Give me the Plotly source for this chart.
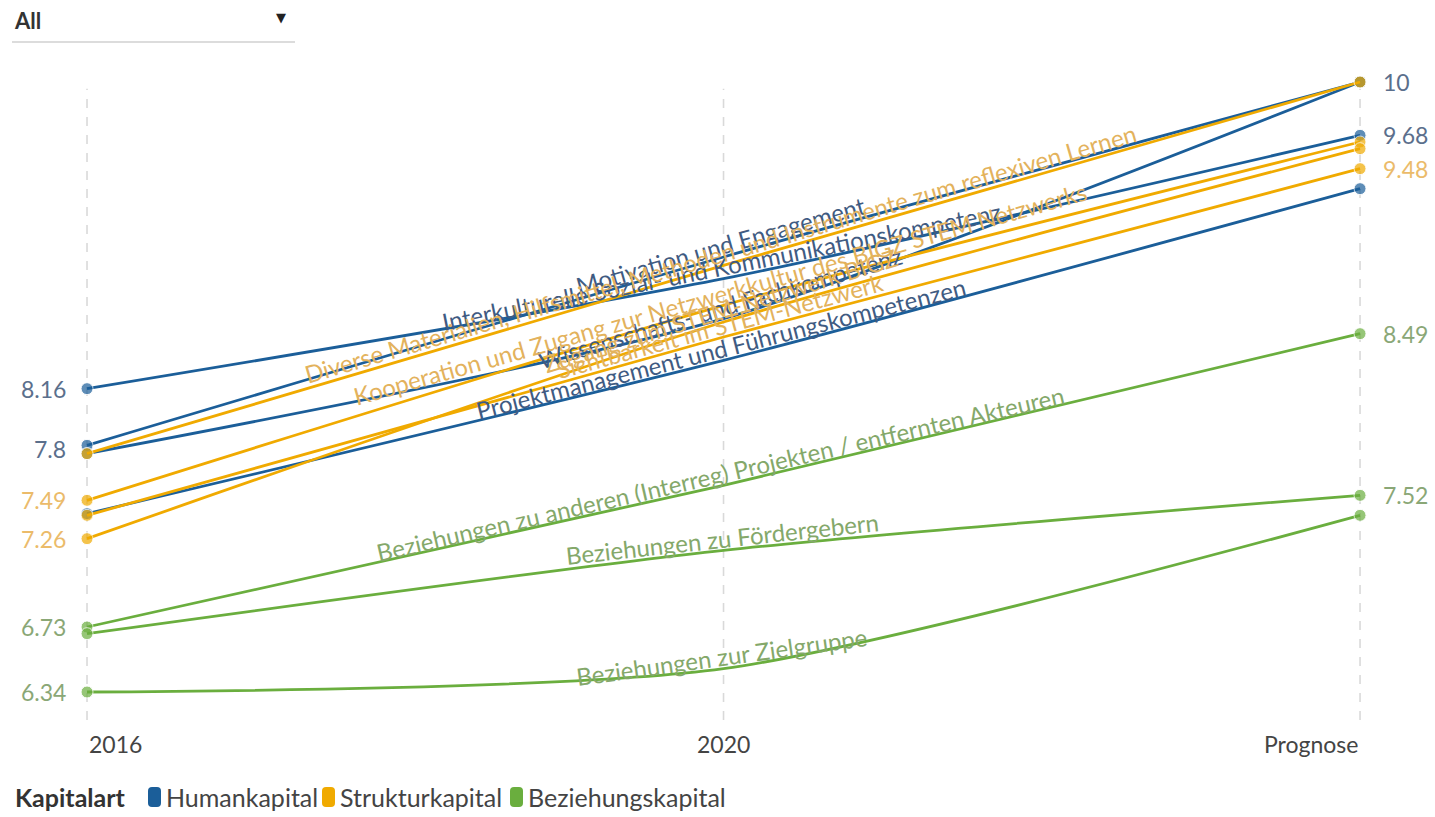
import math
import plotly.graph_objects as go

# ---------------- data ----------------
periods = ["2016", "2020", "Prognose"]

human_names = [
    "Motivation und Engagement",
    "Interkulturelle Sozial- und Kommunikationskompetenz",
    "Wissenschafts- und Fachkompetenz",
    "Projektmanagement und Führungskompetenzen",
]
human_2016 = [7.82, 8.16, 7.77, 7.41]
human_2020 = [8.95, 8.82, 8.58, 8.33]
human_prog = [10.0, 9.68, 10.0, 9.36]

struct_names = [
    "Diverse Materialien, Hilfsmittel, Methoden und Instrumente zum reflexiven Lernen",
    "Kooperation und Zugang zur Netzwerkkultur des BIGZ STEM Netzwerks",
    "Zugang zum STEM-Netzwerk BIGZ",
    "Sichtbarkeit im STEM-Netzwerk",
]
struct_2016 = [7.77, 7.49, 7.26, 7.40]
struct_2020 = [8.90, 8.66, 8.56, 8.47]
struct_prog = [10.0, 9.64, 9.60, 9.48]

rel_names = [
    "Beziehungen zu anderen (Interreg) Projekten / entfernten Akteuren",
    "Beziehungen zu Fördergebern",
    "Beziehungen zur Zielgruppe",
]
rel_2016 = [6.73, 6.69, 6.34]
rel_2020 = [7.58, 7.19, 6.48]
rel_prog = [8.49, 7.52, 7.40]

legend_title = "Kapitalart"
group_names = ["Humankapital", "Strukturkapital", "Beziehungskapital"]

left_labels = ["8.16", "7.8", "7.49", "7.26", "6.73", "6.34"]
left_label_vals = [8.16, 7.8, 7.49, 7.26, 6.73, 6.34]
left_label_grp = [0, 0, 1, 1, 2, 2]
right_labels = ["10", "9.68", "9.48", "8.49", "7.52"]
right_label_vals = [10.0, 9.68, 9.48, 8.49, 7.52]
right_label_grp = [0, 0, 1, 2, 2]

# ---------------- style ----------------
LINE_COLORS = ["#1b5e99", "#f0aa00", "#6aae3e"]
TEXT_COLORS = ["#3f5b82", "#e3b25c", "#84a86a"]
VALUE_COLORS = ["#5b6f8c", "#ebbb6a", "#8aa776"]
FONT = "Source Sans Pro, Lato, Noto Sans, sans-serif"

W, H = 1435, 817
ML, MR, MT, MB = 20, 15, 62, 97
XR = [-0.1053, 2.0942]
YR = [6.172, 10.12]
PX_X = (W - ML - MR) / (XR[1] - XR[0])
PX_Y = (H - MT - MB) / (YR[1] - YR[0])


def px2paper_x(px):
    return (px - ML) / (W - ML - MR)


def px2paper_y(py):
    return (H - MB - py) / (H - MT - MB)


xs = [0, 1, 2]
fig = go.Figure()
annotations = []
shapes = []

# dashed vertical guides at each period
for xv in xs:
    shapes.append(dict(type="line", xref="x", yref="y", x0=xv, x1=xv,
                       y0=YR[0], y1=9.96, layer="below",
                       line=dict(color="#d9d9d9", width=1.6, dash="dash")))

groups = [
    (human_names, human_2016, human_2020, human_prog),
    (struct_names, struct_2016, struct_2020, struct_prog),
    (rel_names, rel_2016, rel_2020, rel_prog),
]

for gi, (names, a, b, c) in enumerate(groups):
    for i, name in enumerate(names):
        ys = [a[i], b[i], c[i]]
        fig.add_trace(go.Scatter(
            x=xs, y=ys, mode="lines+markers", name=name,
            line=dict(color=LINE_COLORS[gi], width=2.8, shape="spline", smoothing=0.7),
            marker=dict(size=[12, 0, 12], color=LINE_COLORS[gi]),
            showlegend=False, cliponaxis=False, hoverinfo="name+y",
        ))
        slope = ((c[i] - a[i]) / 2 * PX_Y) / PX_X
        ang = math.atan(slope)
        d = 12
        annotations.append(dict(
            x=1, y=b[i], xref="x", yref="y", text=name, showarrow=False,
            textangle=-math.degrees(ang), xanchor="center", yanchor="middle",
            xshift=-d * math.sin(ang), yshift=d * math.cos(ang),
            font=dict(family=FONT, size=24, color=TEXT_COLORS[gi]),
        ))

for t, v, g in zip(left_labels, left_label_vals, left_label_grp):
    annotations.append(dict(x=0, y=v, xref="x", yref="y", text=t, showarrow=False,
                            xanchor="right", yanchor="middle", xshift=-19,
                            font=dict(family=FONT, size=23, color=VALUE_COLORS[g])))
for t, v, g in zip(right_labels, right_label_vals, right_label_grp):
    annotations.append(dict(x=2, y=v, xref="x", yref="y", text=t, showarrow=False,
                            xanchor="left", yanchor="middle", xshift=21,
                            font=dict(family=FONT, size=23, color=VALUE_COLORS[g])))

# x tick labels
for xv, t, anc in zip(xs, periods, ["left", "center", "right"]):
    annotations.append(dict(x=xv, y=0, xref="x", yref="paper", text=t, showarrow=False,
                            xanchor=anc, yanchor="top", yshift=-8,
                            font=dict(family=FONT, size=23, color="#444")))

# dropdown look-alike
annotations.append(dict(x=px2paper_x(12), y=px2paper_y(20), xref="paper", yref="paper",
                        text="<b>All</b>", showarrow=False, xanchor="left", yanchor="middle",
                        font=dict(family=FONT, size=22, color="#333")))
annotations.append(dict(x=px2paper_x(281), y=px2paper_y(18), xref="paper", yref="paper",
                        text="▼", showarrow=False, xanchor="center", yanchor="middle",
                        font=dict(family="DejaVu Sans", size=13, color="#222")))
shapes.append(dict(type="line", xref="paper", yref="paper",
                   x0=px2paper_x(12), x1=px2paper_x(295), y0=px2paper_y(42), y1=px2paper_y(42),
                   line=dict(color="#dcdcdc", width=2)))

# legend (drawn as text + rounded swatches)
LEG_Y = 797
annotations.append(dict(x=px2paper_x(13), y=px2paper_y(LEG_Y), xref="paper", yref="paper",
                        text="<b>" + legend_title + "</b>", showarrow=False,
                        xanchor="left", yanchor="middle",
                        font=dict(family=FONT, size=25, color="#333")))
swatch_x = [148, 322, 510]
for gi, (sx, g) in enumerate(zip(swatch_x, group_names)):
    x0, x1 = px2paper_x(sx), px2paper_x(sx + 13)
    y0, y1 = px2paper_y(LEG_Y + 10), px2paper_y(LEG_Y - 10)
    r = 4
    rx = r / (W - ML - MR)
    ry = r / (H - MT - MB)
    path = (f"M {x0 + rx},{y0} L {x1 - rx},{y0} Q {x1},{y0} {x1},{y0 + ry} "
            f"L {x1},{y1 - ry} Q {x1},{y1} {x1 - rx},{y1} L {x0 + rx},{y1} "
            f"Q {x0},{y1} {x0},{y1 - ry} L {x0},{y0 + ry} Q {x0},{y0} {x0 + rx},{y0} Z")
    shapes.append(dict(type="path", xref="paper", yref="paper", path=path,
                       fillcolor=LINE_COLORS[gi], line=dict(width=0)))
    annotations.append(dict(x=px2paper_x(sx + 16), y=px2paper_y(LEG_Y), xref="paper",
                            yref="paper", text=g, showarrow=False,
                            xanchor="left", yanchor="middle",
                            font=dict(family=FONT, size=25, color="#444")))

fig.update_layout(
    width=W, height=H,
    margin=dict(l=ML, r=MR, t=MT, b=MB),
    paper_bgcolor="white", plot_bgcolor="white",
    font=dict(family=FONT, color="#333"),
    xaxis=dict(range=XR, tickvals=xs, showticklabels=False, showgrid=False,
               zeroline=False, showline=False, fixedrange=True),
    yaxis=dict(range=YR, showticklabels=False, showgrid=False, zeroline=False,
               showline=False, fixedrange=True),
    annotations=annotations,
    shapes=shapes,
    showlegend=False,
)

fig.write_html("out.html")
